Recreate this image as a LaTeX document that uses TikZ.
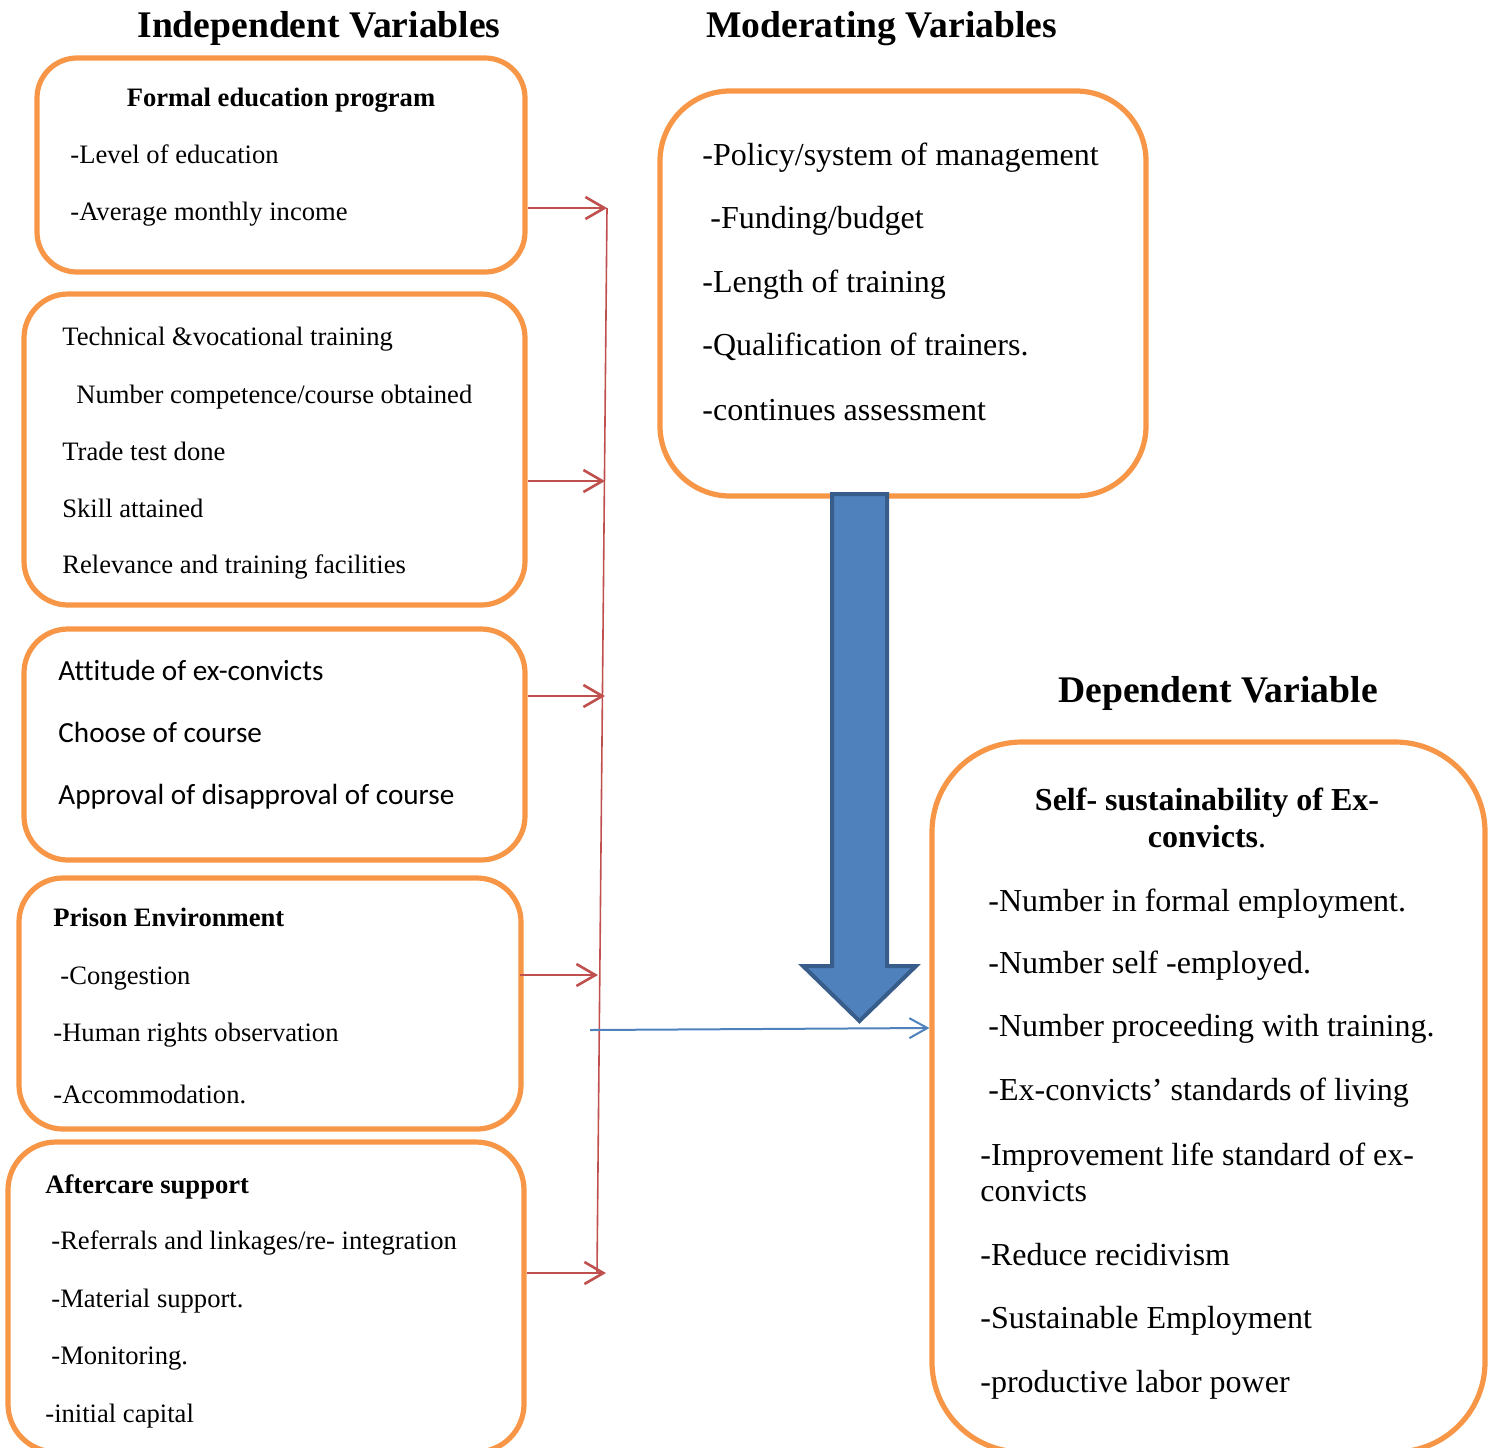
\documentclass[tikz,border=0pt]{standalone}
\usepackage{fontspec}
\setmainfont{Liberation Serif}
\newfontfamily\calib[Ligatures=NoCommon]{Carlito}
\usetikzlibrary{arrows.meta}
\definecolor{orng}{HTML}{F79646}
\definecolor{redl}{HTML}{C0504D}
\definecolor{bluel}{HTML}{4F81BD}
\definecolor{blued}{HTML}{385D8A}
\begin{document}
\begin{tikzpicture}[x=0.5pt,y=-0.5pt,
  box/.style={draw=orng,line width=2.6pt,rounded corners=#1,inner sep=0pt},
  box/.default=22pt,
  txt/.style={anchor=base west,inner sep=0pt,font=\fontsize{13.3}{16}\selectfont},
  btxt/.style={txt,font=\fontsize{13.3}{16}\selectfont\bfseries},
  ctxt/.style={anchor=base west,inner sep=0pt,font=\calib\fontsize{14.6}{17}\selectfont},
  mtxt/.style={anchor=base west,inner sep=0pt,font=\fontsize{16}{19}\selectfont},
  htxt/.style={anchor=base west,inner sep=0pt,font=\fontsize{18.8}{22}\selectfont\bfseries},
  redarr/.style={draw=redl,line width=1.3pt,-{Straight Barb[length=9.5pt,width=11pt,line width=1.3pt]}},
  redline/.style={draw=redl,line width=0.8pt},
  bluearr/.style={draw=bluel,line width=1pt,-{Straight Barb[length=9pt,width=10pt,line width=1pt]}},
  bigarrow/.style={fill=bluel,draw=blued,line width=2pt}
]
\useasboundingbox (0,0) rectangle (1494,1447);
\clip (0,0) rectangle (1494,1447);

% headings
\node[htxt] (h1) at (137,37) {Independent Variables};
\node[htxt] (h2) at (706,37) {Moderating Variables};
\node[htxt] (h3) at (1058,702) {Dependent Variable};

% boxes
\node[box=20pt,minimum width=244pt,minimum height=107pt] (b1) at (281,165) {};
\node[box,minimum width=250.5pt,minimum height=155.5pt] (b2) at (274.5,449.5) {};
\node[box,minimum width=250.5pt,minimum height=115.5pt] (b3) at (274.5,744.5) {};
\node[box,minimum width=251pt,minimum height=125.5pt] (b4) at (270,1003.5) {};
\node[box=24pt,minimum width=258pt,minimum height=155pt] (b5) at (266,1297) {};
\node[box=35pt,minimum width=243pt,minimum height=202.5pt] (mod) at (903,293.5) {};
\node[box=45pt,minimum width=276.5pt,minimum height=355pt] (dep) at (1208.5,1097) {};

% box 1
\node[btxt,anchor=base] (t11) at (281,106) {Formal education program};
\node[txt] (t12) at (70,163) {-Level of education};
\node[txt] (t13) at (70,220) {-Average monthly income};
% box 2
\node[txt] (t21) at (62,345) {Technical \&vocational training};
\node[txt] (t22) at (76,403) {Number competence/course obtained};
\node[txt] (t23) at (62,460) {Trade test done};
\node[txt] (t24) at (62,517) {Skill attained};
\node[txt] (t25) at (62,573) {Relevance and training facilities};
% box 3
\node[ctxt] (t31) at (58,680) {Attitude of ex-convicts};
\node[ctxt] (t32) at (58,742) {Choose of course};
\node[ctxt] (t33) at (58,804) {Approval of disapproval of course};
% box 4
\node[btxt] (t41) at (53,926) {Prison Environment};
\node[txt] (t42) at (60,984) {-Congestion};
\node[txt] (t43) at (53,1041) {-Human rights observation};
\node[txt] (t44) at (53,1103) {-Accommodation.};
% box 5
\node[btxt] (t51) at (45,1193) {Aftercare support};
\node[txt] (t52) at (51,1249) {-Referrals and linkages/re- integration};
\node[txt] (t53) at (51,1307) {-Material support.};
\node[txt] (t54) at (51,1364) {-Monitoring.};
\node[txt] (t55) at (45,1422) {-initial capital};
% moderating
\node[mtxt] (m1) at (702,165) {-Policy/system of management};
\node[mtxt] (m2) at (710,228) {-Funding/budget};
\node[mtxt] (m3) at (702,292) {-Length of training};
\node[mtxt] (m4) at (702,355) {-Qualification of trainers.};
\node[mtxt] (m5) at (702,420) {-continues assessment};
% dependent
\node[mtxt,anchor=base,font=\fontsize{16}{19}\selectfont\bfseries] (d0a) at (1207,810) {Self- sustainability of Ex-};
\node[mtxt,anchor=base] (d0b) at (1207,847) {\textbf{convicts}.};
\node[mtxt] (d1) at (988,911) {-Number in formal employment.};
\node[mtxt] (d2) at (988,973) {-Number self -employed.};
\node[mtxt] (d3) at (988,1036) {-Number proceeding with training.};
\node[mtxt] (d4) at (988,1100) {-Ex-convicts’ standards of living};
\node[mtxt] (d5) at (980,1165) {-Improvement life standard of ex-};
\node[mtxt] (d6) at (980,1201) {convicts};
\node[mtxt] (d7) at (980,1265) {-Reduce recidivism};
\node[mtxt] (d8) at (980,1328) {-Sustainable Employment};
\node[mtxt] (d9) at (980,1392) {-productive labor power};

% red connector
\coordinate (rtop) at (607,208);
\coordinate (rbot) at (597,1273);
\coordinate (r1) at (607,208);
\coordinate (r2) at (605,481);
\coordinate (r3) at (605,696);
\coordinate (r4) at (598,975);
\coordinate (r5) at (606,1273);
\draw[redline] (rtop) -- (rbot);
\draw[redarr] (b1.east |- r1) -- (r1);
\draw[redarr] (b2.east |- r2) -- (r2);
\draw[redarr] (b3.east |- r3) -- (r3);
\draw[redarr] ([xshift=-2pt]b4.east |- r4) -- (r4);
\draw[redarr] (b5.east |- r5) -- (r5);

% blue connector
\coordinate (bstart) at (590,1030);
\coordinate (bend) at (932,1028);
\draw[bluearr] (bstart) -- (dep.west |- bend);

% big arrow
\draw[bigarrow] (832,494) -- (887,494) -- (887,966) -- (916,966) -- (859.5,1021) -- (803,966) -- (832,966) -- cycle;
\end{tikzpicture}
\end{document}
